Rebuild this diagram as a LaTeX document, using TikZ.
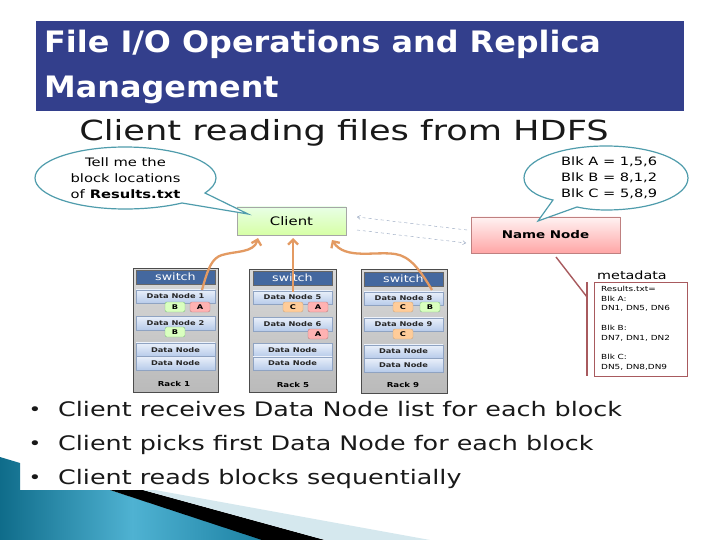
\documentclass[tikz,border=0pt]{standalone}
\usepackage{fontspec}
\setmainfont{DejaVu Sans}
\newfontfamily\titlefont[FakeStretch=1.08]{DejaVu Sans}
\newfontfamily\bodyfont[FakeStretch=1.27]{DejaVu Sans}
\usetikzlibrary{arrows.meta,shapes.geometric,calc}
\definecolor{titlebg}{HTML}{333F8C}
\definecolor{callout}{HTML}{4F9CAC}
\definecolor{orangearrow}{HTML}{E39A62}
\definecolor{switchblue}{HTML}{44689F}
\definecolor{metared}{HTML}{A85A5E}
\definecolor{dntop}{HTML}{EAF0FA}
\definecolor{dnbot}{HTML}{B7CBEA}
\definecolor{dnline}{HTML}{8FA3C2}
\definecolor{tealdark}{HTML}{0F6C8A}
\definecolor{tealmid}{HTML}{4FB2D2}
\definecolor{tealright}{HTML}{1B80A2}
\definecolor{bandlight}{HTML}{D5E8EE}
\definecolor{dashblue}{HTML}{8FA0BC}
\tikzset{
  x=1pt,y=-1pt,
  bubble/.style={draw=callout,line width=1.2pt,fill=white},
  rackbox/.style={draw=black!70,line width=.9pt,top color=black!15,bottom color=black!27},
  switchbox/.style={draw=black!60,fill=switchblue,minimum width=79pt,minimum height=14pt,inner sep=0pt,text=white,font=\bodyfont\fontsize{10}{10}\selectfont},
  datanode/.style={draw=dnline,top color=dntop,bottom color=dnbot,minimum width=79pt,minimum height=13.5pt,inner sep=0pt,font=\bodyfont\bfseries\fontsize{6.5}{8}\selectfont,text=black!85},
  blkA/.style={draw=red!50!black!50,fill=red!30,rounded corners=2pt,minimum width=20pt,minimum height=10pt,inner sep=0pt,font=\bodyfont\bfseries\fontsize{6.5}{7}\selectfont},
  blkB/.style={blkA,draw=green!50!black!50,fill=green!60!yellow!25},
  blkC/.style={blkA,draw=orange!60!black!50,fill=orange!40},
  rarrow/.style={orangearrow,line width=2.3pt,-{Straight Barb[length=5pt,width=10pt]}},
  dasharr/.style={draw=dashblue,dashed,line width=.4pt,-{Straight Barb[length=3pt,width=4pt]}},
  bullettext/.style={anchor=base west,inner sep=0pt,font=\bodyfont\fontsize{20}{22}\selectfont,text=black!90},
  bulletmark/.style={anchor=base,inner sep=0pt,font=\bodyfont\fontsize{17}{22}\selectfont,text=black!90},
  rack label/.style={font=\bodyfont\bfseries\fontsize{6.8}{8}\selectfont,inner sep=0pt},
}
\begin{document}
\begin{tikzpicture}
\useasboundingbox (0,0) rectangle (720,540);
\fill[white] (0,0) rectangle (720,540);
% corner decoration
\shade[left color=tealdark,right color=tealright,middle color=tealmid]
  (0,457) -- (20,463) -- (20,490) -- (110,490) -- (265,540) -- (0,540) -- cycle;
\fill[black] (110,490) -- (143,490) -- (325,540) -- (262,540) -- cycle;
\fill[bandlight] (143,490) -- (155,490) -- (430,540) -- (325,540) -- cycle;
% title
\node[fill=titlebg,minimum width=648pt,minimum height=90pt,anchor=north west,inner sep=0pt] (titlebar) at (36,21) {};
\node[anchor=base west,inner sep=0pt,text=white,font=\titlefont\bfseries\fontsize{29.5}{44}\selectfont] (titletext) at (44,53) {File I/O Operations and Replica};
\node[anchor=base west,inner sep=0pt,text=white,font=\titlefont\bfseries\fontsize{29.5}{44}\selectfont] (titletextb) at (44,98) {Management};
% heading
\node[anchor=base,inner sep=0pt,font=\bodyfont\fontsize{27.7}{30}\selectfont,text=black!90] (heading) at (344,141) {Client reading files from HDFS};
% boxes
\node[draw=black!35,top color=yellow!10!green!10,bottom color=green!45!yellow!35,minimum width=109pt,minimum height=28pt,inner sep=0pt,font=\bodyfont\fontsize{11.7}{11}\selectfont] (client) at (291.5,221) {Client};
\node[draw=red!50!black!50,top color=red!5,bottom color=red!35,minimum width=149pt,minimum height=36pt,inner sep=0pt,font=\bodyfont\bfseries\fontsize{10.6}{11}\selectfont] (namenode) at (545.5,235) {Name Node};
% callouts
\coordinate (cltip) at (248,214);
\coordinate (nntip) at (538,221);
\draw[bubble] (205,193) -- (cltip) -- (182,203) .. controls (165,207) and (145,209) .. (125,209)
  .. controls (75,209) and (35,195) .. (35,178) .. controls (35,161) and (75,147) .. (125,147)
  .. controls (175,147) and (216,161) .. (216,178) .. controls (216,184) and (211,189) .. (205,193) -- cycle;
\draw[bubble] (nntip) -- (553,200) .. controls (535,196) and (524,188) .. (524,178)
  .. controls (524,160) and (560,146) .. (606,146) .. controls (652,146) and (688,160) .. (688,178)
  .. controls (688,196) and (652,210) .. (606,210) .. controls (596,210) and (586,209) .. (577,207) -- cycle;
\node[align=center,inner sep=0pt,font=\bodyfont\fontsize{11.6}{16}\selectfont] (asktext) at (125.5,178) {Tell me the\\block locations\\of \textbf{Results.txt}};
\node[align=left,anchor=west,inner sep=0pt,font=\bodyfont\fontsize{11.5}{16}\selectfont] (blktext) at (561,178) {Blk A = 1,5,6\\Blk B = 8,1,2\\Blk C = 5,8,9};
% dashed arrows
\coordinate (d1a) at (467,230);
\coordinate (d1b) at (357,217);
\coordinate (d2a) at (357,230);
\coordinate (d2b) at (466,243);
\draw[dasharr] (d1a) -- (d1b);
\draw[dasharr] (d2a) -- (d2b);
% racks
\node[rackbox,minimum width=85pt,minimum height=124pt,anchor=north west,inner sep=0pt] (rack1) at (133,268) {};
\node[rackbox,minimum width=87pt,minimum height=123pt,anchor=north west,inner sep=0pt] (rack5) at (249,269) {};
\node[rackbox,minimum width=86pt,minimum height=124pt,anchor=north west,inner sep=0pt] (rack9) at (361,269) {};
\node[switchbox] (s1) at (175.5,277) {switch};
\node[switchbox] (s5) at (292.5,278) {switch};
\node[switchbox] (s9) at (403.5,279) {switch};
\node[datanode] (dn1) at (175.5,296.5) {Data Node 1};
\node[datanode] (dn2) at (175.5,323) {Data Node 2};
\node[datanode] (dn1a) at (175.5,349.7) {Data Node};
\node[datanode] (dn1b) at (175.5,363.2) {Data Node};
\node[datanode] (dn5) at (292.5,297.5) {Data Node 5};
\node[datanode] (dn6) at (292.5,324) {Data Node 6};
\node[datanode] (dn5a) at (292.5,350) {Data Node};
\node[datanode] (dn5b) at (292.5,363.5) {Data Node};
\node[datanode] (dn8) at (403.5,298.5) {Data Node 8};
\node[datanode] (dn9) at (403.5,324.5) {Data Node 9};
\node[datanode] (dn9a) at (403.5,351.5) {Data Node};
\node[datanode] (dn9b) at (403.5,365) {Data Node};
\node[blkB] (b1) at (175,307) {B};
\node[blkA] (a1) at (200,307) {A};
\node[blkB] (b2) at (175,332) {B};
\node[blkC] (c5) at (293,307) {C};
\node[blkA] (a5) at (318,307) {A};
\node[blkA] (a6) at (318,334) {A};
\node[blkC] (c8) at (403,307) {C};
\node[blkB] (b8) at (430,307) {B};
\node[blkC] (c9) at (403,334) {C};
\node[rack label] (r1) at (174,384) {Rack 1};
\node[rack label] (r5) at (293,385) {Rack 5};
\node[rack label] (r9) at (403,385) {Rack 9};
% orange arrows
\coordinate (dn1top) at (202,290);
\coordinate (dn5top) at (293,292);
\coordinate (dn8top) at (432,290);
\coordinate (c1) at (258,238);
\coordinate (c2) at (293,238);
\coordinate (c3) at (332,240);
\draw[rarrow] (dn1top) .. controls (208,268) and (212,258) .. (222,255) .. controls (235,251) and (254,253) .. (c1);
\draw[rarrow] (dn5top) -- (c2);
\draw[rarrow] (dn8top) .. controls (420,270) and (410,256) .. (395,254) .. controls (375,251) and (345,260) .. (c3);
% metadata
\coordinate (nnlink) at (556,257);
\coordinate (brk) at (587,297);
\coordinate (brktop) at (587,282);
\coordinate (brkbot) at (587,376);
\draw[metared,line width=1.4pt] (nnlink) -- (brk);
\draw[metared,line width=1.4pt] (brktop) -- (brkbot);
\node[draw=metared,line width=1.1pt,minimum width=93pt,minimum height=94pt,anchor=north west,inner sep=0pt] (metabox) at (594,282) {};
\node[anchor=north west,inner sep=0pt,align=left,font=\bodyfont\fontsize{7}{9.7}\selectfont] (metatext) at (601,286) {Results.txt=\\Blk A:\\DN1, DN5, DN6\\[9.7pt]Blk B:\\DN7, DN1, DN2\\[9.7pt]Blk C:\\DN5, DN8,DN9};
\node[anchor=center,inner sep=0pt,font=\bodyfont\fontsize{11.3}{12}\selectfont] (metalabel) at (632,275) {metadata};
% bullets
\node[bullettext] (b1t) at (58,416) {Client receives Data Node list for each block};
\node[bullettext] (b2t) at (58,450) {Client picks first Data Node for each block};
\node[bullettext] (b3t) at (58,484) {Client reads blocks sequentially};
\node[bulletmark] (d1) at (35,415) {•};
\node[bulletmark] (d2) at (35,449) {•};
\node[bulletmark] (d3) at (35,483) {•};
\end{tikzpicture}
\end{document}
